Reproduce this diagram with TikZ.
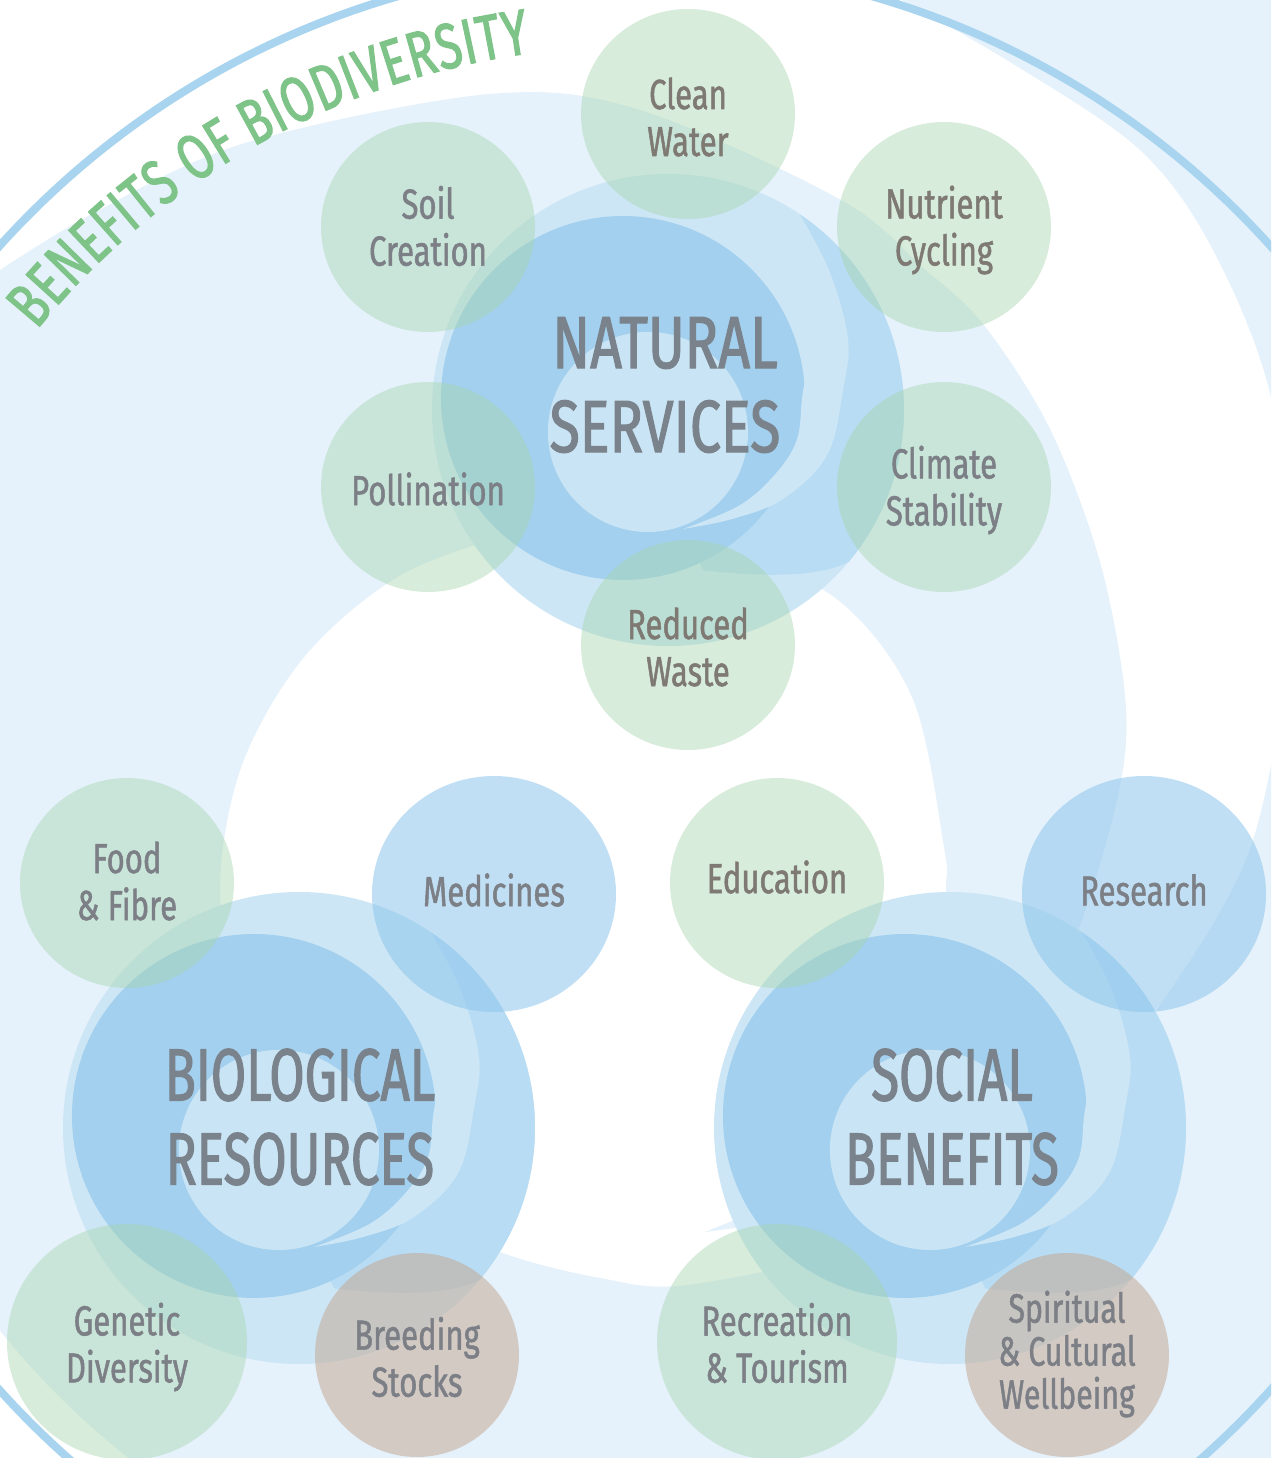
\documentclass[tikz,border=0pt]{standalone}
\usepackage{fontspec}
\usetikzlibrary{shapes.geometric,decorations.text}
\newfontfamily\firaH[FakeStretch=0.75,FakeBold=1.5]{Fira Sans}
\newfontfamily\firaHn[FakeStretch=0.69,FakeBold=1.5]{Fira Sans}
\newfontfamily\firaL[FakeStretch=0.74,FakeBold=1.2]{Fira Sans}
\newfontfamily\firaT[FakeStretch=0.72,FakeBold=1.8]{Fira Sans}
\newcommand\myTitle{\firaT\fontsize{64}{64}\selectfont}
\newcommand\myHub{\firaH\fontsize{74}{84}\selectfont}
\newcommand\myHubN{\firaHn\fontsize{74}{84}\selectfont}
\newcommand\myLab{\firaL\fontsize{42}{47}\selectfont}
\newcommand\myLabS{\firaL\fontsize{41}{43}\selectfont}
\definecolor{bgL}{HTML}{E5F2FB}
\definecolor{ringc}{HTML}{A8D4EF}
\definecolor{hubA}{HTML}{CCE6F6}
\definecolor{hubB}{HTML}{A2D0EE}
\definecolor{hubT}{HTML}{B8DCF3}
\definecolor{hubC}{HTML}{C9E4F5}
\definecolor{satgreen}{HTML}{A8D5AE}
\definecolor{satblue}{HTML}{8EC6EC}
\definecolor{satbrown}{HTML}{C4A793}
\definecolor{titlegreen}{HTML}{7EC387}
\definecolor{hubgray}{HTML}{7A838C}
\definecolor{labgray}{HTML}{7C8086}
\definecolor{labwarm}{HTML}{7E7A73}
\newcommand\hubswirl[1]{%
\begin{scope}[shift={#1},scale=236]
\fill[hubA] (0,0) circle (1);
\fill[hubT] (0.559,-0.829) arc[start angle=-56,end angle=40,radius=1]
  .. controls (0.62,0.72) and (0.35,0.70) .. (0.15,0.68) -- (0.064,0.504)
  -- plot[smooth,tension=0.6] coordinates {(0.064,0.504) (0.275,0.461) (0.487,0.377) (0.674,0.191) (0.742,-0.089) (0.763,-0.301) (0.686,-0.585) (0.559,-0.829)} -- cycle;
\fill[hubB] (-0.191,-0.051) circle (0.771);
\fill[hubA] plot[smooth,tension=0.6] coordinates {(0.064,0.504) (0.275,0.461) (0.487,0.377) (0.674,0.191) (0.742,-0.089) (0.763,-0.301)}
  -- (0.62,-0.30) -- plot[smooth,tension=0.6] coordinates {(0.585,-0.15) (0.568,-0.051) (0.547,0.123) (0.462,0.263) (0.305,0.403) (0.064,0.504)} -- cycle;
\fill[hubC] (-0.085,0.093) circle (0.424);
\end{scope}}
\begin{document}
\begin{tikzpicture}[x=1pt,y=-1pt,
  satG/.style={ellipse,fill=satgreen,fill opacity=0.45,inner sep=0pt},
  satB/.style={ellipse,fill=satblue,fill opacity=0.55,inner sep=0pt},
  satR/.style={ellipse,fill=satbrown,fill opacity=0.52,inner sep=0pt},
  lab/.style={font=\myLab,align=center,text=labgray,inner sep=0pt},
  labw/.style={lab,text=labwarm},
  hubtxt/.style={font=\myHub,align=center,text=hubgray,inner sep=0pt}]
\useasboundingbox (0,0) rectangle (1271,1458);
\clip (0,0) rectangle (1271,1458);
\fill[white] (0,0) rectangle (1271,1458);
% background spiral
\fill[bgL] (144,1470) arc[start angle=127,end angle=142,radius=816]
 -- (-30,1300) -- (-30,200) -- (0,270)
 -- plot[smooth,tension=0.55] coordinates {(0,270) (94,213) (245,143) (490,94) (640,110) (841,200) (922,267) (983,324) (1050,429) (1100,562) (1125,696) (1120,786) (1083,917) (1037,1017) (990,1100) (900,1180) (827,1212) (705,1232)}
 -- plot[smooth,tension=0.55] coordinates {(705,1232) (800,1190) (880,1135) (925,1070) (941,990) (946,889) (944,847) (912,697) (834,597) (707,545) (583,526) (520,532) (401,575) (305,656) (242,765) (220,889) (242,1013) (300,1120) (370,1192) (494,1250) (600,1278) (687,1285) (860,1247) (1000,1180) (1103,1070) (1157,1010) (1253,840) (1292,590) (1271,397) (1213,250) (1140,150) (1010,62) (880,-12)}
 -- (1350,-12) -- (1350,1470) -- cycle;
% hubs
\hubswirl{(668,410)}
\hubswirl{(299,1128)}
\hubswirl{(950,1128)}
% ring
\draw[ringc,line width=8pt] (635,818) circle (855);
% title
\begin{scope}[x=1pt,y=1pt]
\path[decorate,decoration={text along path,text align={fit to path},
  text={|\myTitle\color{titlegreen}|BENEFITS OF BIODIVERSITY}}]
  (36.8,-330) arc[start angle=140.8,end angle=97.8,radius=772];
\end{scope}
% satellites
\node[satG,minimum width=214pt,minimum height=210pt] (cw) at (688,114) {};
\node[satG,minimum width=214pt,minimum height=210pt] (sc) at (428,227) {};
\node[satG,minimum width=214pt,minimum height=210pt] (nc) at (944,227) {};
\node[satG,minimum width=214pt,minimum height=210pt] (po) at (428,487) {};
\node[satG,minimum width=214pt,minimum height=210pt] (cs) at (944,487) {};
\node[satG,minimum width=214pt,minimum height=210pt] (rw) at (688,645) {};
\node[satG,minimum width=214pt,minimum height=210pt] (ff) at (127,883) {};
\node[satB,minimum width=244pt,minimum height=236pt] (me) at (494,894) {};
\node[satG,minimum width=214pt,minimum height=210pt] (ed) at (777,883) {};
\node[satB,minimum width=244pt,minimum height=236pt] (re) at (1144,894) {};
\node[satG,minimum width=240pt,minimum height=236pt] (gd) at (127,1342) {};
\node[satR,minimum width=204pt,minimum height=204pt] (bs) at (417,1355) {};
\node[satG,minimum width=240pt,minimum height=236pt] (rt) at (777,1342) {};
\node[satR,minimum width=204pt,minimum height=204pt] (sp) at (1067,1355) {};
% hub titles
\node[hubtxt] (ns) at (665,385) {NATURAL\\SERVICES};
\node[hubtxt,font=\myHubN] (br) at (300,1117) {BIOLOGICAL\\RESOURCES};
\node[hubtxt,font=\myHubN] (sb) at (952,1117) {SOCIAL\\BENEFITS};
% labels
\node[labw] (tcw) at (688,117) {Clean\\Water};
\node[lab] (tsc) at (428,226) {Soil\\Creation};
\node[labw] (tnc) at (944,230) {Nutrient\\Cycling};
\node[lab] (tpo) at (428,489) {Pollination};
\node[lab] (tcs) at (944,490) {Climate\\Stability};
\node[labw] (trw) at (688,647) {Reduced\\Waste};
\node[lab] (tff) at (127,881) {Food\\\& Fibre};
\node[lab] (tme) at (494,890) {Medicines};
\node[labw] (ted) at (777,877) {Education};
\node[lab] (tre) at (1144,890) {Research};
\node[lab] (tgd) at (127,1347) {Genetic\\Diversity};
\node[lab] (tbs) at (417,1357) {Breeding\\Stocks};
\node[lab] (trt) at (777,1343) {Recreation\\\& Tourism};
\node[lab,font=\myLabS] (tsp) at (1067,1354) {Spiritual\\\& Cultural\\Wellbeing};
\end{tikzpicture}
\end{document}
